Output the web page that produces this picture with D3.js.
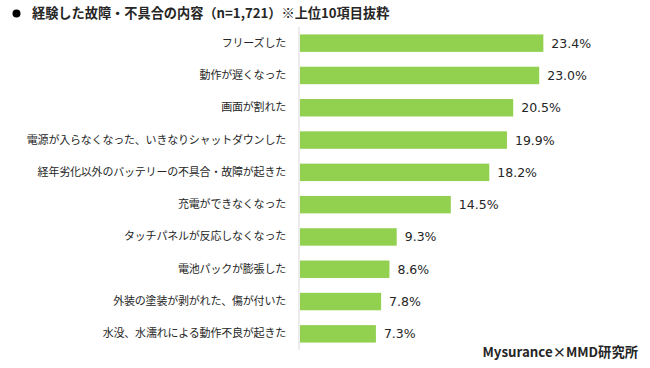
<!DOCTYPE html>
<html>
<head>
<meta charset="utf-8">
<script src="https://cdn.jsdelivr.net/npm/d3@7"></script>
<style>
  body { margin: 0; background: #fff; }
  text { font-family: "Noto Sans CJK JP", sans-serif; fill: #262626; }
</style>
</head>
<body>
<div id="chart"></div>
<script>
var svgWidth = 650;
var svgHeight = 368;

// data
var categories = [
  "フリーズした",
  "動作が遅くなった",
  "画面が割れた",
  "電源が入らなくなった、いきなりシャットダウンした",
  "経年劣化以外のバッテリーの不具合・故障が起きた",
  "充電ができなくなった",
  "タッチパネルが反応しなくなった",
  "電池パックが膨張した",
  "外装の塗装が剥がれた、傷が付いた",
  "水没、水濡れによる動作不良が起きた"
];
var values = [23.4, 23.0, 20.5, 19.9, 18.2, 14.5, 9.3, 8.6, 7.8, 7.3];

var titleText = "経験した故障・不具合の内容（n=1,721）※上位10項目抜粋";
var sourceText = "Mysurance×MMD研究所";

var margin = { top: 27, right: 40, bottom: 18, left: 299 };

var svg = d3.select("#chart")
  .append("svg")
  .attr("width", svgWidth)
  .attr("height", svgHeight);

var x = d3.scaleLinear()
  .domain([0, 30])
  .range([margin.left, margin.left + 312]);

var y = d3.scaleBand()
  .domain(categories)
  .range([margin.top, svgHeight - margin.bottom])
  .paddingInner(0.46)
  .paddingOuter(0.23);

// title
svg.append("circle")
  .attr("cx", 16.5)
  .attr("cy", 13.5)
  .attr("r", 4)
  .attr("fill", "#000");

svg.append("text")
  .attr("x", 32)
  .attr("y", 18)
  .style("font-size", "13.2px")
  .style("font-weight", "bold")
  .text(titleText);

// bars
svg.selectAll("rect.bar")
  .data(values)
  .enter()
  .append("rect")
  .attr("class", "bar")
  .attr("x", x(0) + 1)
  .attr("y", (d, i) => y(categories[i]))
  .attr("width", d => x(d) - x(0))
  .attr("height", y.bandwidth())
  .attr("fill", "#92d050");

// value labels
svg.selectAll("text.val")
  .data(values)
  .enter()
  .append("text")
  .attr("class", "val")
  .attr("x", d => x(d) + 9)
  .attr("y", (d, i) => y(categories[i]) + y.bandwidth() / 2)
  .attr("dy", "0.36em")
  .style("font-family", "'DejaVu Sans', Verdana, sans-serif")
  .style("font-size", "12.5px")
  .text(d => d.toFixed(1) + "%");

// category axis
var leftAxis = d3.axisLeft(y).tickSize(0).tickPadding(13);
var axisG = svg.append("g")
  .attr("transform", `translate(${margin.left},0)`)
  .call(leftAxis);

axisG.select(".domain")
  .attr("stroke", "#d9d9d9")
  .attr("d", `M0,${margin.top}V${svgHeight - margin.bottom}`);

axisG.selectAll("text")
  .style("font-family", "'Noto Sans CJK JP', sans-serif")
  .style("font-size", "11px")
  .style("letter-spacing", "-0.2px")
  .attr("fill", "#262626");

// source
svg.append("text")
  .attr("x", 638)
  .attr("y", 357)
  .attr("text-anchor", "end")
  .style("font-size", "13.3px")
  .style("font-weight", "bold")
  .text(sourceText);
</script>
</body>
</html>
